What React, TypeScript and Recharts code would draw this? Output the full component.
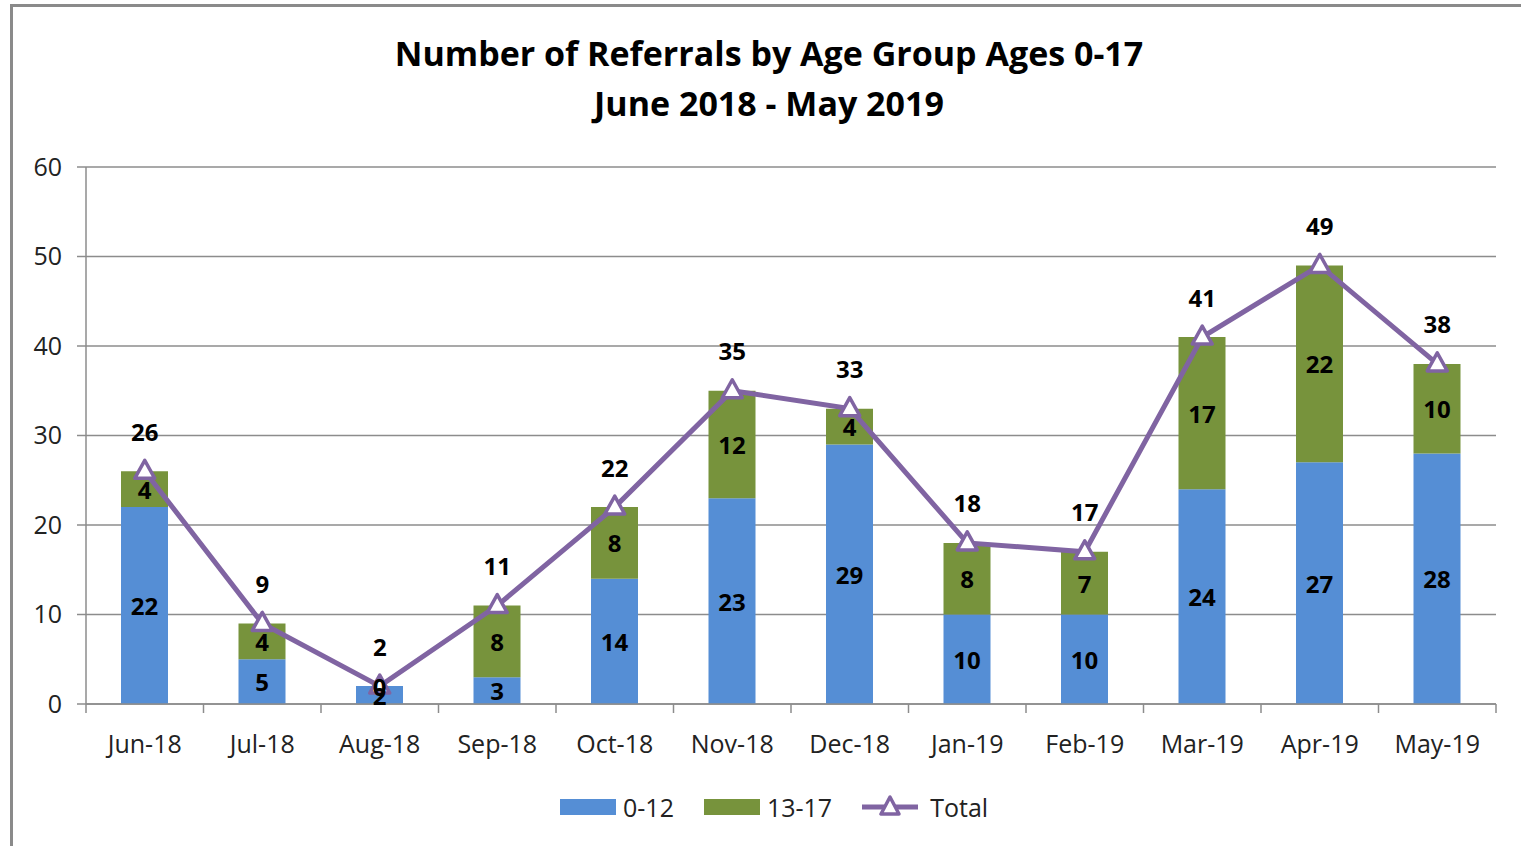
import React from 'react';
import { ComposedChart, Bar, Line, XAxis, YAxis, CartesianGrid, LabelList } from 'recharts';

const months = ['Jun-18', 'Jul-18', 'Aug-18', 'Sep-18', 'Oct-18', 'Nov-18', 'Dec-18', 'Jan-19', 'Feb-19', 'Mar-19', 'Apr-19', 'May-19'];
const age0to12 = [22, 5, 2, 3, 14, 23, 29, 10, 10, 24, 27, 28];
const age13to17 = [4, 4, 0, 8, 8, 12, 4, 8, 7, 17, 22, 10];
const totals = [26, 9, 2, 11, 22, 35, 33, 18, 17, 41, 49, 38];
const yTicks = [0, 10, 20, 30, 40, 50, 60];

const data = months.map((m, i) => ({ month: m, young: age0to12[i], teen: age13to17[i], total: totals[i] }));

const BLUE = '#558ED5';
const GREEN = '#77933C';
const PURPLE = '#8064A2';
const GRID = '#8c8c8c';
const FONT = '"Open Sans", "Liberation Sans", sans-serif';

const W = 1521;
const H = 846;
const MARGIN = { top: 167, right: 25, bottom: 82, left: 10 };
const Y_AXIS_W = 76;
const HALF_BAND = (W - MARGIN.left - Y_AXIS_W - MARGIN.right) / months.length / 2;

const XTick = ({ x, y, payload, index }: any) => (
  <g>
    <line x1={x - HALF_BAND} x2={x - HALF_BAND} y1={y} y2={y + 9} stroke={GRID} strokeWidth={1.5} />
    {index === months.length - 1 && (
      <line x1={x + HALF_BAND} x2={x + HALF_BAND} y1={y} y2={y + 9} stroke={GRID} strokeWidth={1.5} />
    )}
    <text x={x} y={y + 39} textAnchor="middle" dominantBaseline="central" fill="#222" fontSize={25} fontFamily={FONT}>
      {payload.value}
    </text>
  </g>
);

const TriangleDot = ({ cx, cy }: any) => {
  if (cx == null || cy == null) return null;
  return (
    <polygon
      points={`${cx},${cy - 11} ${cx - 10},${cy + 7} ${cx + 10},${cy + 7}`}
      fill="#fff"
      stroke={PURPLE}
      strokeWidth={3.5}
      strokeLinejoin="round"
    />
  );
};

const labelStyle = { fill: '#000', fontSize: 24, fontWeight: 700, fontFamily: FONT };

const TotalLabel = ({ x, y, value }: any) => (
  <text x={x} y={y - 40} textAnchor="middle" dominantBaseline="central" {...labelStyle}>
    {value}
  </text>
);

// labels for both segments are drawn from the 0-12 bar, since a zero-height
// 13-17 segment gets no label of its own
const SegLabels = ({ x, y, width, height, value, index }: any) => {
  const perUnit = value ? height / value : 0;
  const teen = age13to17[index];
  return (
    <g>
      <text x={x + width / 2} y={y + height / 2} textAnchor="middle" dominantBaseline="central" {...labelStyle}>
        {value}
      </text>
      <text x={x + width / 2} y={y - (teen * perUnit) / 2} textAnchor="middle" dominantBaseline="central" {...labelStyle}>
        {teen}
      </text>
    </g>
  );
};

const LegendItem = ({ kind, color, label }: { kind: 'bar' | 'line'; color: string; label: string }) => (
  <div style={{ display: 'flex', alignItems: 'center', marginRight: 30 }}>
    {kind === 'bar' ? (
      <div style={{ width: 56, height: 16, background: color, marginRight: 7 }} />
    ) : (
      <svg width={56} height={24} style={{ marginRight: 12 }}>
        <line x1={0} x2={56} y1={12} y2={12} stroke={color} strokeWidth={5} />
        <polygon points="28,2 19,19 37,19" fill="#fff" stroke={color} strokeWidth={3.5} strokeLinejoin="round" />
      </svg>
    )}
    <span style={{ fontSize: 25, color: '#222', fontFamily: FONT }}>{label}</span>
  </div>
);

export default function App() {
  return (
    <div style={{ position: 'absolute', left: 0, top: 0, width: W, height: H, overflow: 'hidden', background: '#fff' }}>
      <div style={{ position: 'absolute', left: 10, top: 4, width: W + 20, height: H + 20, borderLeft: '3px solid #8a8a8a', borderTop: '3px solid #8a8a8a' }} />
      <div style={{ position: 'absolute', left: 0, width: 1538, top: 28, textAlign: 'center', fontFamily: FONT, fontWeight: 700, fontSize: 34, lineHeight: '50px', color: '#000' }}>
        <div>Number of Referrals by Age Group Ages 0-17</div>
        <div>June 2018 - May 2019</div>
      </div>
      <ComposedChart width={W} height={H} data={data} margin={MARGIN} style={{ position: 'absolute', left: 0, top: 0 }}>
        <CartesianGrid vertical={false} stroke={GRID} strokeWidth={1.5} />
        <XAxis dataKey="month" tickLine={false} tickSize={0} tickMargin={0} height={60} axisLine={{ stroke: GRID, strokeWidth: 1.5 }} tick={<XTick />} interval={0} />
        <YAxis
          domain={[0, 60]}
          ticks={yTicks}
          width={Y_AXIS_W}
          tickSize={9}
          tickMargin={15}
          axisLine={{ stroke: GRID, strokeWidth: 1.5 }}
          tickLine={{ stroke: GRID, strokeWidth: 1.5 }}
          tick={{ fill: '#222', fontSize: 25, fontFamily: FONT }}
        />
        <Bar dataKey="young" stackId="a" fill={BLUE} barSize={47} isAnimationActive={false}>
          <LabelList dataKey="young" content={<SegLabels />} />
        </Bar>
        <Bar dataKey="teen" stackId="a" fill={GREEN} barSize={47} isAnimationActive={false} />
        <Line dataKey="total" stroke={PURPLE} strokeWidth={5} dot={<TriangleDot />} activeDot={false} isAnimationActive={false}>
          <LabelList dataKey="total" content={<TotalLabel />} />
        </Line>
      </ComposedChart>
      <div style={{ position: 'absolute', left: 560, top: 790, display: 'flex', alignItems: 'center' }}>
        <LegendItem kind="bar" color={BLUE} label="0-12" />
        <LegendItem kind="bar" color={GREEN} label="13-17" />
        <LegendItem kind="line" color={PURPLE} label="Total" />
      </div>
    </div>
  );
}
